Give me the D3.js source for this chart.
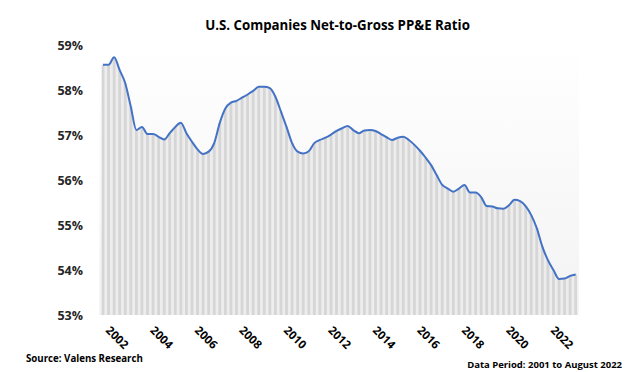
<!DOCTYPE html>
<html>
<head>
<meta charset="utf-8">
<script src="https://cdn.jsdelivr.net/npm/d3@7"></script>
<style>
  html, body { margin: 0; padding: 0; background: #ffffff; }
  svg { display: block; font-family: "Open Sans", "Liberation Sans", sans-serif; }
</style>
</head>
<body>
<svg id="chart" width="628" height="372"></svg>
<script>
// Quarterly net-to-gross PP&E ratio (%), 2001 Q1 .. 2022 Q2
const ratio = [
  58.56, 58.56, 58.73, 58.44, 58.15, 57.63, 57.11, 57.18, 57.02, 57.02,
  56.96, 56.90, 57.04, 57.18, 57.27, 57.04, 56.85, 56.68, 56.58, 56.63,
  56.82, 57.27, 57.59, 57.72, 57.76, 57.83, 57.90, 57.98, 58.07, 58.07,
  58.04, 57.85, 57.52, 57.18, 56.82, 56.63, 56.59, 56.64, 56.82, 56.89,
  56.94, 57.01, 57.09, 57.15, 57.20, 57.11, 57.04, 57.10, 57.11, 57.09,
  57.02, 56.95, 56.89, 56.94, 56.96, 56.89, 56.78, 56.65, 56.50, 56.33,
  56.11, 55.89, 55.81, 55.74, 55.81, 55.89, 55.72, 55.72, 55.62, 55.42,
  55.41, 55.37, 55.36, 55.44, 55.56, 55.53, 55.42, 55.22, 54.93, 54.52,
  54.22, 54.00, 53.80, 53.81, 53.87, 53.90
];
const xTickIndex = [0, 8, 16, 24, 32, 40, 48, 56, 64, 72, 80];
const xTickLabels = ["2002", "2004", "2006", "2008", "2010", "2012", "2014", "2016", "2018", "2020", "2022"];
const yTicks = [53, 54, 55, 56, 57, 58, 59];
const titleText = "U.S. Companies Net-to-Gross PP&E Ratio";
const sourceText = "Source: Valens Research";
const periodText = "Data Period: 2001 to August 2022";

const svg = d3.select("#chart");
const x = d3.scaleLinear().domain([0, ratio.length - 1]).range([103, 575.7]);
const y = d3.scaleLinear().domain([53, 59]).range([315, 45]);

const defs = svg.append("defs");
const bg = defs.append("linearGradient").attr("id", "bgGrad")
  .attr("x1", 0).attr("y1", 0).attr("x2", 0).attr("y2", 1);
bg.append("stop").attr("offset", "0%").attr("stop-color", "#ffffff");
bg.append("stop").attr("offset", "100%").attr("stop-color", "#f3f3f3");

// plot background
svg.append("rect")
  .attr("x", 99).attr("y", 45)
  .attr("width", 480).attr("height", 270)
  .attr("fill", "url(#bgGrad)");

// area under line
const area = d3.area()
  .x((d, i) => x(i))
  .y0(y(53))
  .y1(d => y(d));
svg.append("path")
  .datum(ratio)
  .attr("d", area)
  .attr("fill", "#ededed");

// bars
const bw = 2.8;
svg.append("g").selectAll("rect")
  .data(ratio)
  .join("rect")
  .attr("x", (d, i) => x(i) - bw / 2)
  .attr("y", d => y(d))
  .attr("width", bw)
  .attr("height", d => y(53) - y(d))
  .attr("fill", "#d6d6d6");

// line
const line = d3.line()
  .x((d, i) => x(i))
  .y(d => y(d))
  .curve(d3.curveMonotoneX);
svg.append("path")
  .datum(ratio)
  .attr("d", line)
  .attr("fill", "none")
  .attr("stroke", "#4472c4")
  .attr("stroke-width", 2)
  .attr("stroke-linejoin", "round");

// y axis
const yAxis = d3.axisLeft(y)
  .tickValues(yTicks)
  .tickFormat(d => d + "%")
  .tickSize(0)
  .tickPadding(0);
const yg = svg.append("g").attr("transform", "translate(83,0)").call(yAxis);
yg.select(".domain").remove();
yg.selectAll("text")
  .attr("font-family", "'Open Sans', sans-serif")
  .attr("font-weight", "bold")
  .attr("font-size", 12.5)
  .attr("fill", "#262626")
  .attr("dy", "0.35em")
  .attr("x", 0);

// x axis labels
const xAxis = d3.axisBottom(x)
  .tickValues(xTickIndex)
  .tickFormat((d, i) => xTickLabels[i])
  .tickSize(0)
  .tickPadding(0);
const xg = svg.append("g").attr("transform", "translate(0,0)").call(xAxis);
xg.select(".domain").remove();
xg.selectAll(".tick").attr("transform", d => `translate(${x(d) + 2},331)`);
xg.selectAll("text")
  .attr("font-family", "'Open Sans', sans-serif")
  .attr("font-weight", "bold")
  .attr("font-size", 11.5)
  .attr("fill", "#000000")
  .attr("text-anchor", "start")
  .attr("y", 0)
  .attr("dy", 0)
  .attr("transform", "rotate(45)");

// helper to fit a text element to a target width
function fit(sel, target) {
  const w = sel.node().getComputedTextLength();
  const fs = parseFloat(sel.attr("font-size"));
  sel.attr("font-size", (fs * target / w).toFixed(2));
}

// title
const title = svg.append("text")
  .attr("x", 337.5).attr("y", 30)
  .attr("text-anchor", "middle")
  .attr("font-family", "'Open Sans', sans-serif")
  .attr("font-weight", "bold")
  .attr("font-size", 14)
  .attr("fill", "#000000")
  .text(titleText);
fit(title, 265);

const src = svg.append("text")
  .attr("x", 26).attr("y", 362)
  .attr("font-family", "'Open Sans', sans-serif")
  .attr("font-weight", "bold")
  .attr("font-size", 11)
  .attr("fill", "#000000")
  .text(sourceText);
fit(src, 117);

const per = svg.append("text")
  .attr("x", 622).attr("y", 368)
  .attr("text-anchor", "end")
  .attr("font-family", "'Open Sans', sans-serif")
  .attr("font-weight", "bold")
  .attr("font-size", 11)
  .attr("fill", "#000000")
  .text(periodText);
fit(per, 155);
</script>
</body>
</html>
